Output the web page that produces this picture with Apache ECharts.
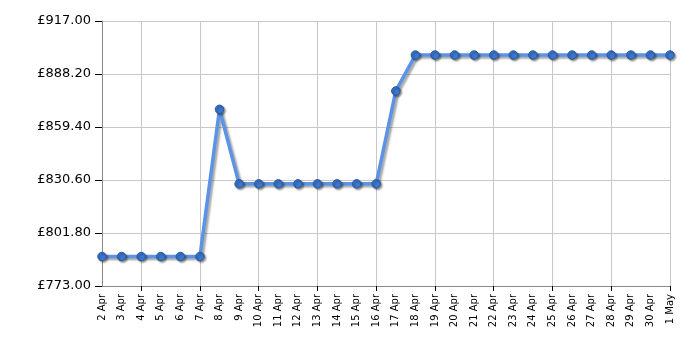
<!DOCTYPE html>
<html><head><meta charset="utf-8">
<script src="https://cdn.jsdelivr.net/npm/echarts@6/dist/echarts.min.js"></script>
<style>html,body{margin:0;padding:0;background:#fff}#c{width:700px;height:350px}</style>
</head><body><div id="c"></div>
<script>
const categories = ["2 Apr","3 Apr","4 Apr","5 Apr","6 Apr","7 Apr","8 Apr","9 Apr","10 Apr","11 Apr","12 Apr","13 Apr","14 Apr","15 Apr","16 Apr","17 Apr","18 Apr","19 Apr","20 Apr","21 Apr","22 Apr","23 Apr","24 Apr","25 Apr","26 Apr","27 Apr","28 Apr","29 Apr","30 Apr","1 May"];
const prices = [789,789,789,789,789,789,869,828.5,828.5,828.5,828.5,828.5,828.5,828.5,828.5,879,898.5,898.5,898.5,898.5,898.5,898.5,898.5,898.5,898.5,898.5,898.5,898.5,898.5,898.5];
const yTicks = [773, 801.8, 830.6, 859.4, 888.2, 917];

const chart = echarts.init(document.getElementById('c'), null, {renderer:'canvas'});
const gridEvery3 = (i) => i % 3 === 2;
chart.setOption({
  animation:false,
  grid:{left:102,right:30,top:21,bottom:64,containLabel:false},
  xAxis:{
    type:'category', data:categories, boundaryGap:false,
    axisLine:{lineStyle:{color:'#888',width:1}},
    axisTick:{show:true,interval:gridEvery3,length:5,lineStyle:{color:'#000'}},
    axisLabel:{interval:0,rotate:90,fontFamily:'DejaVu Sans',fontSize:10,color:'#000',margin:8},
    splitLine:{show:true,interval:gridEvery3,lineStyle:{color:'#c8c8c8',width:1}}
  },
  yAxis:{
    type:'value', min:773, max:917,
    axisLine:{show:true,lineStyle:{color:'#888'}},
    axisTick:{show:true,length:7,customValues:yTicks,lineStyle:{color:'#000'}},
    axisLabel:{customValues:yTicks,fontFamily:'DejaVu Sans',fontSize:13,color:'#000',margin:11,
      formatter:(v)=>'£'+v.toFixed(2)},
    splitLine:{show:true,lineStyle:{color:'#c8c8c8',width:1}}
  },
  series:[{
    type:'line', data:prices, symbol:'circle', symbolSize:8.5,
    lineStyle:{color:'#5b93e6',width:3.5,shadowColor:'rgba(0,0,0,0.35)',shadowBlur:2,shadowOffsetX:2,shadowOffsetY:2},
    itemStyle:{color:'#3b77cf',borderColor:'#2a5899',borderWidth:1,shadowColor:'rgba(0,0,0,0.4)',shadowBlur:2,shadowOffsetX:1.5,shadowOffsetY:1.5}
  }]
});
</script></body></html>
